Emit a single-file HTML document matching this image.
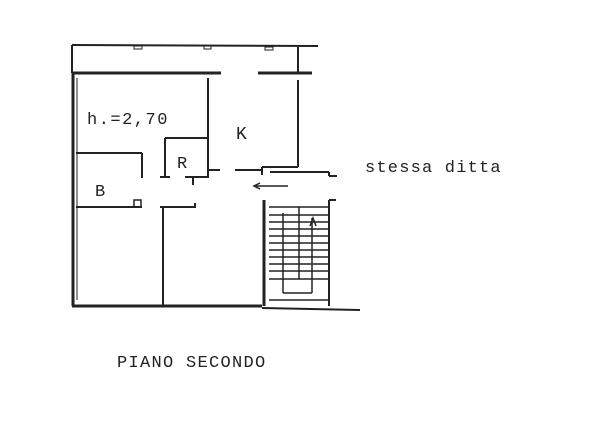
<!DOCTYPE html>
<html><head><meta charset="utf-8"><style>
html,body{margin:0;padding:0;background:#fff;}
svg{display:block}
text{font-family:"Liberation Mono",monospace;fill:#222}
</style></head><body>
<svg width="602" height="448" viewBox="0 0 602 448" xmlns="http://www.w3.org/2000/svg">
<g stroke="#222" stroke-width="2" fill="none">
<line x1="72" y1="45" x2="318" y2="46"/>
<line x1="72" y1="45" x2="72" y2="73"/>
<line x1="298" y1="47" x2="298" y2="73"/>
<rect x="134" y="46" width="8" height="3" stroke-width="1"/>
<rect x="204" y="46" width="7" height="3" stroke-width="1"/>
<rect x="265" y="47" width="8" height="3" stroke-width="1"/>
<line x1="72" y1="73" x2="221" y2="73" stroke-width="3"/>
<line x1="258" y1="73" x2="312" y2="73" stroke-width="3"/>
<line x1="73" y1="73" x2="73" y2="306" stroke-width="3"/>
<line x1="77" y1="78" x2="77" y2="300" stroke-width="1"/>
<line x1="208" y1="78" x2="208" y2="178"/>
<line x1="165" y1="138" x2="208" y2="138"/>
<line x1="165" y1="138" x2="165" y2="177"/>
<line x1="160" y1="177" x2="170" y2="177"/>
<line x1="185" y1="177" x2="208" y2="177"/>
<line x1="193" y1="177" x2="193" y2="185"/>
<line x1="208" y1="170" x2="220" y2="170"/>
<line x1="235" y1="170" x2="262" y2="170"/>
<line x1="298" y1="80" x2="298" y2="167"/>
<line x1="262" y1="167" x2="298" y2="167"/>
<line x1="262" y1="167" x2="262" y2="175"/>
<line x1="270" y1="172" x2="329" y2="172"/>
<line x1="329" y1="172" x2="329" y2="176"/>
<line x1="329" y1="176" x2="337" y2="176"/>
<line x1="76" y1="153" x2="142" y2="153"/>
<line x1="142" y1="153" x2="142" y2="178"/>
<line x1="76" y1="207" x2="142" y2="207"/>
<rect x="134" y="200" width="7" height="7" stroke-width="1.5"/>
<line x1="160" y1="207" x2="195" y2="207"/>
<line x1="195" y1="203" x2="195" y2="208"/>
<line x1="163" y1="207" x2="163" y2="305"/>
<line x1="72" y1="306" x2="262" y2="306" stroke-width="3"/>
<line x1="262" y1="308" x2="360" y2="310"/>
<line x1="264" y1="200" x2="264" y2="306" stroke-width="3"/>
<line x1="329" y1="200" x2="329" y2="306"/>
<line x1="329" y1="200" x2="336" y2="200"/>
<g stroke-width="1.5">
<line x1="269" y1="207" x2="328" y2="207"/>
<line x1="269" y1="215" x2="328" y2="215"/>
<line x1="269" y1="222" x2="328" y2="222"/>
<line x1="269" y1="229" x2="328" y2="229"/>
<line x1="269" y1="236" x2="328" y2="236"/>
<line x1="269" y1="243" x2="328" y2="243"/>
<line x1="269" y1="250" x2="328" y2="250"/>
<line x1="269" y1="257" x2="328" y2="257"/>
<line x1="269" y1="264" x2="328" y2="264"/>
<line x1="269" y1="271" x2="328" y2="271"/>
<line x1="269" y1="279" x2="328" y2="279"/>
<line x1="269" y1="300" x2="330" y2="300"/>
<line x1="283" y1="213" x2="283" y2="293"/>
<line x1="283" y1="293" x2="312" y2="293"/>
<line x1="312" y1="218" x2="312" y2="293"/>
<line x1="299" y1="207" x2="299" y2="279"/>
</g>
<path d="M310 226 L313 218 L316 226" stroke-width="1.5"/>
<line x1="256" y1="186" x2="288" y2="186" stroke-width="1.5"/>
<path d="M260 183 L254 186 L260 189" stroke-width="1.5"/>
</g>
<text x="87" y="124" font-size="17" letter-spacing="1.5">h.=2,70</text>
<text x="236" y="139" font-size="18" font-family="Liberation Serif">K</text>
<text x="177" y="168" font-size="17" font-family="Liberation Serif">R</text>
<text x="95" y="196" font-size="17" font-family="Liberation Serif">B</text>
<text x="365" y="172" font-size="17" letter-spacing="1.2">stessa ditta</text>
<text x="117" y="367" font-size="17" letter-spacing="1.3">PIANO SECONDO</text>
</svg>
</body></html>
